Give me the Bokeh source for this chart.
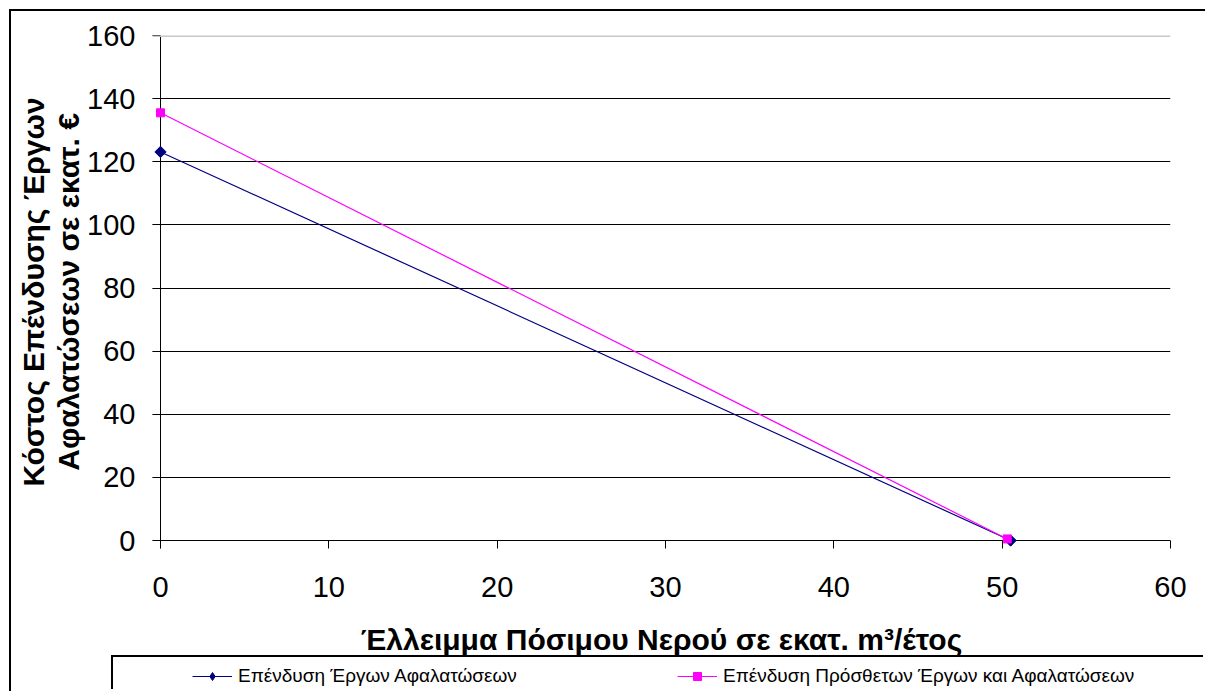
from bokeh.plotting import figure
from bokeh.models import Range1d, FixedTicker, Span, Legend, LegendItem, Spacer
from bokeh.layouts import column, row
from bokeh.embed import file_html
from bokeh.resources import INLINE
import math

# ---- data ----
x_desal = [0, 50.5]
y_desal = [123.1, 0.0]
x_total = [0, 50.3]
y_total = [135.5, 0.5]

series_names = ["Επένδυση Έργων Αφαλατώσεων",
                "Επένδυση Πρόσθετων Έργων και Αφαλατώσεων"]
x_ticks = [0, 10, 20, 30, 40, 50, 60]
y_ticks = [0, 20, 40, 60, 80, 100, 120, 140, 160]
x_title = "Έλλειμμα Πόσιμου Νερού σε εκατ. m³/έτος"
y_title = "Κόστος Επένδυσης Έργων\nΑφαλατώσεων σε εκατ. €"

FONT = "Liberation Sans"
NAVY = "#000080"
MAGENTA = "#FF00FF"

# plot area of 1010 x 505 px for 0..60 x 0..160, plus an 8px strip left/below
# (where the outward tick marks sit) so markers on the axes are not clipped
PW, PH, PAD = 1010, 505, 8
x0 = -PAD * (x_ticks[-1] - x_ticks[0]) / PW
y0 = -PAD * (y_ticks[-1] - y_ticks[0]) / PH

p = figure(width=1194, height=670, output_backend="svg", toolbar_location=None,
           x_range=Range1d(x0, x_ticks[-1]), y_range=Range1d(y0, y_ticks[-1]),
           min_border_left=141, min_border_right=35, min_border_top=24, min_border_bottom=133)
p.outline_line_color = None
p.background_fill_color = "white"
p.border_fill_color = "white"

# axis lines at 0 drawn as grid lines (below the series), other horizontal gridlines black
p.xgrid.ticker = FixedTicker(ticks=[x_ticks[0]])
p.xgrid.grid_line_color = "black"
p.ygrid.ticker = FixedTicker(ticks=y_ticks[:-1])
p.ygrid.grid_line_color = "black"
p.ygrid.grid_line_width = 1
p.add_layout(Span(location=y_ticks[-1], dimension="width", line_color="#c8c8c8", line_width=3))

for ax in (p.xaxis[0], p.yaxis[0]):
    ax.axis_line_color = None
    ax.major_tick_line_color = "black"
    ax.major_tick_in = 8
    ax.major_tick_out = 0
    ax.minor_tick_line_color = None
    ax.major_label_text_font = FONT
    ax.major_label_text_font_size = "29px"
    ax.major_label_text_color = "black"
    ax.axis_label_text_font = FONT
    ax.axis_label_text_font_style = "bold"
    ax.axis_label_text_font_size = "30px"
    ax.axis_label_text_color = "black"

p.xaxis.ticker = FixedTicker(ticks=x_ticks)
p.yaxis.ticker = FixedTicker(ticks=y_ticks)
p.xaxis.major_label_standoff = 28
p.yaxis.major_label_standoff = 17
p.xaxis.axis_label = x_title
p.yaxis.axis_label = y_title
p.xaxis.axis_label_standoff = 23
p.yaxis.axis_label_standoff = -1
p.yaxis.axis_label_text_line_height = 1.06

p.line(x_desal, y_desal, line_color=NAVY, line_width=1.2)
p.scatter(x_desal, y_desal, marker="square", size=8, angle=math.pi / 4,
          fill_color=NAVY, line_color=NAVY)
p.line(x_total, y_total, line_color=MAGENTA, line_width=1.2)
p.scatter(x_total, y_total, marker="square", size=8, fill_color=MAGENTA, line_color=MAGENTA)

# ---- legend strip (boxed, below the chart) ----
# same series, drawn off-view: only their legend swatches show
p2 = figure(width=1092, height=34, output_backend="svg", toolbar_location=None,
            x_axis_type=None, y_axis_type=None, min_border=0,
            x_range=Range1d(1000, 1001), y_range=Range1d(1000, 1001),
            styles={"border-left": "2px solid black", "border-top": "2px solid black"})
p2.grid.visible = False
p2.outline_line_color = None
lg1 = p2.line(x_desal, y_desal, line_color=NAVY, line_width=1.2)
mg1 = p2.scatter(x_desal, y_desal, marker="diamond", size=13,
                 fill_color=NAVY, line_color=NAVY)
lg2 = p2.line(x_total, y_total, line_color=MAGENTA, line_width=1.2)
mg2 = p2.scatter(x_total, y_total, marker="square", size=8,
                 fill_color=MAGENTA, line_color=MAGENTA)

legend = Legend(items=[LegendItem(label=series_names[0], renderers=[lg1, mg1]),
                       LegendItem(label=series_names[1], renderers=[lg2, mg2])],
                location=(79, 4), orientation="horizontal",
                padding=0, margin=0, spacing=139,
                glyph_width=40, glyph_height=20, label_standoff=6,
                label_width=300, label_height=20,
                label_text_font=FONT, label_text_font_size="19px",
                label_text_color="black",
                background_fill_alpha=0, border_line_color=None)
p2.add_layout(legend)

layout = column(p, row(Spacer(width=100, height=36), p2, styles={"margin-top": "-26px"}),
                styles={"margin-left": "9px", "margin-top": "9px",
                        "border-left": "2px solid black", "border-top": "2px solid black"})

open("out.html", "w").write(file_html(layout, INLINE))
